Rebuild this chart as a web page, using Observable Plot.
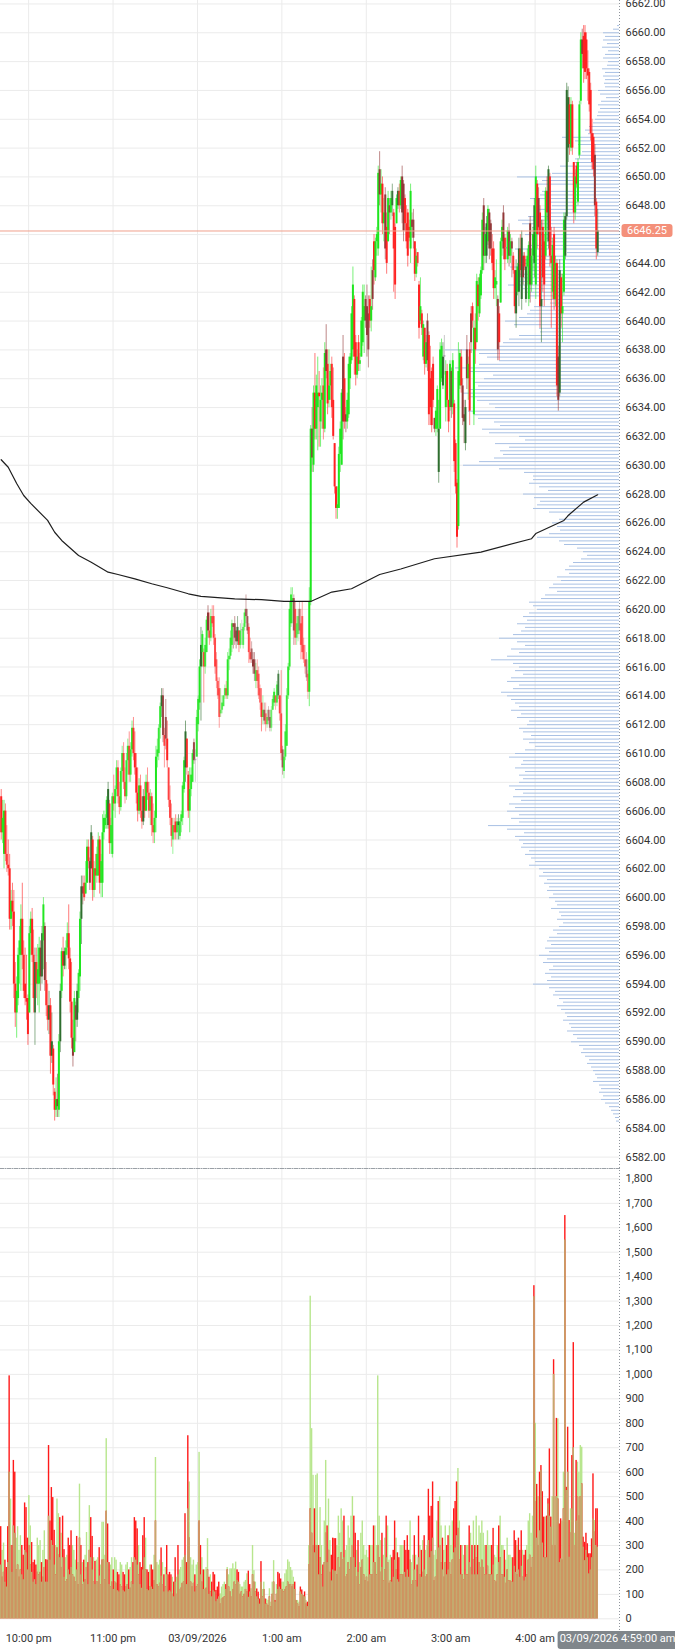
<!DOCTYPE html>
<html><head><meta charset="utf-8">
<script src="https://cdn.jsdelivr.net/npm/d3@7"></script>
<script src="https://cdn.jsdelivr.net/npm/@observablehq/plot@0.6"></script>
<style>
html,body{margin:0;padding:0;background:#fff;}
#chart{position:relative;width:675px;height:1652px;overflow:hidden;background:#fff;}
#chart svg{position:absolute;left:0;}
</style></head><body><div id="chart"></div>
<script>
// ---- x axis categories ----
const hourTickHours = [22, 23, 0, 1, 2, 3, 4];
const hourLabels = ["10:00 pm", "11:00 pm", "03/09/2026", "1:00 am", "2:00 am", "3:00 am", "4:00 am"];
const crosshairLabel = "03/09/2026 4:59:00 am";
const lastPrice = 6646.25;

// ---- 1-minute candles from 21:40 (open, high, low, close) ----
const ohlc = [
[6607,6607.5,6604,6604.5],[6604.5,6606.75,6603.75,6605.5],[6603,6606.75,6602,6606],[6606,6606.5,6602.5,6603],[6603,6605,6601.75,6602.25],
[6602.25,6604,6601.5,6602],[6602,6603,6597.75,6598.5],[6598.5,6600.5,6597.75,6599.75],[6599.75,6601,6598,6599],[6599,6600.5,6593,6594],
[6594,6595.5,6591,6592],[6592,6594.5,6590.25,6593.5],[6593,6596.5,6592.5,6596],[6596,6598,6594,6597],[6596,6599.5,6593.5,6598.5],
[6598.5,6601,6595,6596],[6596,6597,6593,6593.5],[6594,6596.5,6592.5,6593],[6593,6596,6591.5,6592.75],[6593,6593.25,6589.75,6590.5],
[6592,6598,6592,6597.5],[6597.5,6599,6596,6598.5],[6598.5,6599.25,6595.5,6596],[6596,6597.75,6592,6593],[6592,6596.5,6589.75,6595.5],
[6595.5,6596.5,6593,6594],[6594,6596.75,6592.5,6595],[6594,6597.25,6592,6596.5],[6596.5,6597,6593.5,6594.5],[6594.5,6598,6594,6597.5],
[6597,6600,6595,6599.5],[6598,6598.25,6593.5,6594.25],[6594.25,6595.5,6591.75,6592.5],[6592.5,6594,6590.75,6591.5],[6591.5,6593.5,6590.5,6592.5],
[6592.5,6593,6587.75,6589],[6589,6592,6588.5,6590],[6589.5,6589.75,6586.25,6587],[6586.5,6586.75,6584.5,6585.25],[6585.25,6587.5,6584.75,6586],
[6586,6587.75,6584.75,6585.5],[6585.25,6590.5,6584.75,6590],[6590,6594,6589.25,6593.5],[6593.5,6596.5,6593,6596.25],[6596.25,6597.25,6594.5,6595.25],
[6595.25,6596.5,6595,6596.25],[6596,6597,6595,6596.5],[6596.5,6598.25,6596,6597.5],[6597.5,6599.5,6595,6595.75],[6595.75,6596.5,6592,6592.75],
[6592.75,6595.5,6589.5,6590.25],[6590.25,6591.5,6588.25,6589],[6589.25,6593.5,6589.25,6593],[6592.5,6592.75,6590,6591.5],[6591.5,6594,6591,6593.5],
[6593,6595,6592,6594.75],[6594.5,6599,6593.5,6598.5],[6598.5,6601.5,6596.75,6600.75],[6600.75,6601.5,6599.5,6600.25],[6601,6601.5,6599.75,6600],
[6600.25,6602.5,6600.25,6601],[6601,6604,6601,6603.5],[6603.5,6604,6602,6602.5],[6602.5,6602.75,6600.5,6601],[6602,6605,6602,6604.5],
[6604,6604.25,6599.75,6600.5],[6600.5,6602.5,6600,6602],[6602,6603,6600.5,6601.5],[6601.5,6603.5,6601,6603],[6601.5,6604.5,6601.5,6604],
[6604,6604.25,6600.25,6601],[6601,6603,6600,6602.5],[6601,6605.75,6600,6604.5],[6604.5,6606,6604,6605.5],[6605,6605.75,6604.75,6605.5],
[6605.5,6607,6604.75,6606.75],[6605,6608,6604.75,6607.5],[6606.5,6606.75,6603,6603.75],[6603.75,6605.5,6603,6605],[6603,6607.25,6602.75,6607],
[6607,6608.5,6606,6606.5],[6606.5,6607.75,6605.5,6607.5],[6607.5,6609.5,6607,6609],[6609,6609.5,6606.5,6607],[6607,6608,6605.75,6606.25],
[6606.25,6609,6606,6608.75],[6608.75,6610.5,6608,6610],[6610,6610.75,6607.5,6608],[6608,6609,6606.5,6607],[6607,6610,6606.75,6609.5],
[6609.5,6611,6608.5,6610.5],[6610.5,6611.5,6608,6608.5],[6608.5,6610.75,6608,6610.25],[6610.25,6612.25,6609.75,6611.75],[6611.75,6612.5,6609.5,6610],
[6610,6611.5,6608.5,6609],[6609,6610,6606.5,6607.25],[6607.25,6609,6605.25,6606],[6606,6608.25,6605.75,6607.75],[6607.75,6608.5,6605.5,6606],
[6606,6607,6604.75,6605.25],[6605.25,6607.5,6605,6607],[6607,6608,6605.5,6606],[6606,6608.5,6606,6608],[6608,6609,6606.75,6607.25],
[6607.25,6608,6605.5,6606],[6606,6607.5,6605,6607],[6607,6607.25,6604.25,6605],[6605,6606.5,6603.75,6604.5],[6604.5,6606,6603.75,6605.5],
[6605.5,6610.5,6604.5,6609.75],[6609.75,6611,6609,6610.25],[6610,6612,6609.5,6611.75],[6611.75,6613.5,6611,6613.25],[6613.25,6614.5,6612.5,6614],
[6614,6614.5,6610.75,6611.25],[6611.25,6611.75,6609,6610.5],[6612.5,6613.75,6610.25,6611],[6611,6612.25,6609,6609.5],[6609,6609,6606.25,6606.75],
[6606.75,6607.75,6605,6605.5],[6605.5,6606.5,6603.5,6604.25],[6604,6605.5,6603,6605],[6605,6605.5,6604,6604.5],[6605.25,6605.75,6604,6604.5],
[6604.5,6605.5,6604,6605.25],[6605,6605.75,6604,6605.25],[6604.25,6605.5,6604,6605.25],[6605.25,6606,6604.5,6605.75],[6605.5,6608,6605,6607.75],
[6607.5,6609.75,6607.25,6609.5],[6609,6612.25,6608,6611.5],[6611,6611,6608.5,6609],[6608.5,6608.75,6605.5,6606],[6606,6609,6604.5,6607.5],
[6607.5,6609,6607,6608.5],[6608,6610.25,6608,6610],[6610.75,6611,6609.25,6609.5],[6609.5,6610.25,6608,6609.5],[6609.75,6613,6609.75,6612.5],
[6612,6614,6611.5,6613.75],[6613.5,6616.5,6613,6616],[6616,6618.75,6612.25,6617.5],[6617,6618.5,6616,6618.25],[6617,6617.25,6613.5,6616],
[6616,6618,6615.5,6617.5],[6617,6619.5,6617,6619.25],[6619.75,6620.25,6618,6618.5],[6618.5,6619.75,6617.5,6618],[6618,6620,6617.75,6619.5],
[6619.5,6620.25,6618.75,6619],[6619.5,6620.25,6617.5,6618],[6618,6618.25,6615.5,6616],[6616.5,6617,6614.5,6615],[6615,6615.25,6613.75,6614],
[6614.5,6615.25,6611.75,6612.5],[6612.75,6614.5,6612.5,6613],[6613,6614,6612.75,6613.5],[6613.25,6614,6613.25,6614],[6614,6614.75,6613.75,6614.5],
[6614.5,6615,6613.75,6614],[6614,6617,6613.75,6616.5],[6616.5,6617.25,6615.75,6616.75],[6616.75,6618.5,6616.5,6618],[6617.5,6619.25,6617,6619],
[6619,6619,6617.25,6618.75],[6619,6619.5,6617.5,6618],[6618.5,6618.75,6617.25,6617.75],[6617.75,6619.5,6617.5,6618.75],[6618.5,6618.5,6617,6617.5],
[6617.5,6619,6617.25,6618.5],[6618.5,6619.25,6617.5,6618.5],[6617.5,6619,6617.25,6618.75],[6618.75,6620,6618.5,6619.75],[6620,6621,6619,6619.5],
[6619.5,6620,6618.25,6618.5],[6618.75,6619,6616.25,6617],[6617,6618,6616.25,6616.5],[6617.25,6617.75,6616.25,6616.5],[6616.5,6617,6615.5,6616],
[6616.5,6617,6615,6615.5],[6615,6616.25,6614.5,6615.75],[6615.75,6616.5,6614.5,6615],[6615.5,6616,6613.75,6614],[6614.5,6614.75,6613,6613.5],
[6613.5,6614.5,6611.5,6612.5],[6612.5,6614,6612,6613],[6613,6613.5,6612,6612.25],[6612.75,6613.5,6611.5,6612],[6612,6613,6611.75,6612.5],
[6613,6613.25,6612,6612.25],[6612.5,6613,6611.5,6611.75],[6611.75,6613.25,6611.5,6613],[6613,6614,6613,6613.75],[6613.5,6614.5,6613.25,6614.25],
[6614,6614,6613,6613.5],[6613.5,6615,6613.25,6614.75],[6614,6615.75,6613.75,6615.5],[6614,6614,6612.25,6612.75],[6612.75,6615.75,6609.5,6610],
[6610.25,6610.5,6608.5,6609],[6608.75,6610.25,6608.25,6609.75],[6609.75,6612,6609.5,6611.5],[6610.5,6614.5,6610.5,6614],[6614,6616.25,6613.75,6616],
[6616,6620.5,6615.75,6620],[6619,6621.5,6618.75,6621],[6620.5,6621.5,6619,6620.75],[6620.75,6621,6617.5,6618.5],[6620,6620.5,6617.5,6618],
[6618,6619.5,6617.5,6619],[6618.25,6620,6617.75,6619.5],[6620,6620.5,6618.25,6618.5],[6619,6620,6616.5,6617.5],[6619.5,6620.5,6616.5,6617],
[6617.5,6618,6616.25,6616.5],[6616.5,6617.5,6615.5,6616],[6616.5,6617,6615,6615.25],[6615.5,6615.75,6613.75,6614.25],[6614.25,6621.5,6613.25,6620.5],
[6620.5,6632.75,6620.25,6632.5],[6632.5,6634,6629.5,6630.5],[6630,6635.5,6629.5,6635],[6635,6637.75,6631.75,6632.5],[6632.5,6636.25,6631.75,6635.5],
[6634,6637.5,6631,6635],[6635,6636.5,6631.25,6634.75],[6633,6635.5,6631.25,6634.5],[6634.5,6636,6632.5,6635],[6635.5,6636.75,6631.75,6632.5],
[6632.5,6638.5,6632.25,6637.75],[6638,6639.75,6636,6636.5],[6637,6638,6633.5,6634.25],[6634.5,6638,6634,6635.5],[6635.5,6637,6634.5,6636.5],
[6637,6637.5,6633.25,6634],[6634.5,6636.75,6631.75,6632],[6631.5,6631.5,6628,6628.5],[6628.5,6628.5,6626.25,6627],[6627,6628.5,6626.25,6627.25],
[6627,6631.25,6627,6630.75],[6630.75,6633,6629.5,6632.5],[6630,6635.25,6630,6635],[6637.5,6639,6631.75,6633],[6636,6637.75,6632.5,6633],
[6633.5,6634,6632.25,6633],[6633,6635,6632.5,6634.5],[6633.5,6637.5,6633.25,6637],[6636,6637.75,6635.25,6637.5],[6637.25,6641,6637,6640.5],
[6638,6643.75,6637.5,6642.5],[6641.5,6641.75,6636.25,6637.5],[6638.5,6639,6635.5,6636.25],[6636.25,6638,6636,6637.5],[6638.5,6639,6636.5,6637],
[6637,6637.75,6636.5,6637.25],[6637.5,6640.25,6637.5,6640],[6638.5,6642.5,6638.25,6642],[6640,6642.5,6637.75,6641],[6641.5,6641.75,6639.5,6640],
[6641,6642.5,6637.5,6639],[6640.5,6641.75,6636.75,6638],[6641.5,6641.75,6639.5,6640],[6640,6643.75,6639.25,6641],[6643.5,6644.25,6640.75,6641.5],
[6645.5,6646,6642.5,6643.5],[6643,6645.75,6642.75,6645.5],[6645.5,6646.5,6644.5,6646],[6645,6650.75,6644.5,6650.25],[6650.5,6651.75,6648,6648.75],
[6648.75,6650.5,6647.5,6649.5],[6649.5,6650,6646,6646.75],[6646.75,6648.5,6645.5,6647.5],[6648.75,6649.25,6644.25,6645],[6646.5,6647.5,6643.25,6644],
[6645.5,6649,6645.5,6648.5],[6648,6648.5,6646,6647.5],[6647.5,6649,6647,6648.5],[6648,6649.5,6647.25,6649],[6647.5,6647.75,6642,6645],
[6646.5,6646.75,6641.5,6642.5],[6646.75,6648.75,6646.75,6648.5],[6648,6649.25,6647.75,6649],[6649,6649.5,6647.5,6648],[6648,6650,6647.75,6649.75],
[6650,6650.75,6646.75,6647.5],[6649.5,6649.75,6645.5,6646.25],[6648.5,6648.75,6646.25,6646.75],[6646.75,6648,6645,6645.5],[6647.5,6647.75,6643.75,6644.5],
[6646.5,6647,6645.5,6645.75],[6645,6649.5,6644,6649],[6647,6647.5,6645.75,6646.5],[6647,6647.75,6645,6645.75],[6645.5,6645.5,6642.75,6643.25],
[6643.25,6645,6643,6644.5],[6644.75,6644.75,6643.75,6644],[6642.5,6642.75,6638.75,6639.5],[6640,6643,6639.75,6641],[6640.5,6640.75,6639,6639.5],
[6637.5,6640,6637.25,6639.75],[6639.5,6639.5,6636.25,6637],[6637,6639,6636.75,6638.5],[6640,6640.5,6636.5,6637.25],[6639,6639.25,6632.75,6633.5],
[6636,6638.25,6632.75,6634],[6636.5,6636.75,6632.25,6632.75],[6637,6637.5,6634,6634.5],[6633.25,6633.25,6632.25,6632.5],[6632.5,6634,6632,6633.75],
[6632.5,6635.5,6632.25,6635.25],[6629.5,6634.5,6628.75,6632.5],[6632.5,6638.5,6632.5,6638],[6636,6638.75,6635.75,6638.25],[6635.5,6638.5,6635.25,6637.5],
[6637.5,6639,6636.25,6637.5],[6634,6637.25,6633,6636.5],[6636.5,6637,6634,6634.5],[6634.5,6634.5,6632.25,6633],[6634,6637.25,6633.75,6637],
[6636.5,6636.75,6633.25,6634],[6634,6637.75,6633.5,6637.25],[6634.25,6634.5,6629.5,6630.25],[6631.5,6631.75,6628,6628.5],[6628.75,6629,6624.25,6625],
[6625.75,6638.5,6625.5,6636.5],[6635.5,6638,6635.25,6637.75],[6637.5,6638,6635,6635.5],[6635.5,6636,6632.75,6633.25],[6633.5,6634.5,6631.5,6633],
[6631.5,6634.5,6631,6634],[6638,6639,6635.25,6636],[6636,6637.5,6634.5,6637],[6638,6638.5,6632.75,6633.75],[6640.5,6641,6637.75,6638.5],
[6641,6641.25,6639.5,6640],[6633.5,6640,6632.75,6639.5],[6639.5,6640.5,6637,6638],[6638.5,6643.25,6638.5,6642.75],[6642.5,6643,6640,6641],
[6640.5,6643.25,6640.25,6643],[6641.75,6643.75,6641.5,6643.5],[6643.5,6647.5,6643.25,6647],[6648,6648.5,6643.5,6644.5],[6644.5,6646.5,6644,6646],
[6644.5,6647.25,6644,6646.75],[6645.5,6648,6645.25,6647.75],[6647.5,6647.75,6644.25,6645],[6646.75,6647,6644.5,6645],[6645,6646,6643.5,6644],
[6645,6645.5,6641.5,6642.25],[6642.25,6643.5,6641.5,6643],[6642.5,6644.25,6641,6642.75],[6641.5,6641.75,6637.25,6638],[6640.5,6641,6637.25,6638.5],
[6641.25,6645.75,6641.25,6645.5],[6645.5,6647,6644.5,6646.5],[6647.5,6648,6644.25,6645],[6645.75,6646,6643.5,6644.25],[6645,6645.75,6644.25,6645],
[6644.25,6646.5,6644,6646.25],[6646.25,6646.75,6643.75,6644.5],[6644.5,6646,6644,6645.5],[6645.5,6645.75,6643,6645],[6644.5,6644.75,6643.25,6643.5],
[6643.5,6643.5,6640.5,6641],[6640.5,6644.25,6639.5,6643.5],[6642,6644,6641.75,6643.75],[6642,6645.75,6641,6645],[6645,6646,6643,6643.5],
[6641.5,6646.25,6640.75,6645.75],[6644.5,6644.75,6642.5,6643],[6644.5,6644.75,6643.5,6643.75],[6641.5,6644.25,6641.25,6643.75],[6643.75,6645,6642.5,6644.5],
[6641.5,6645.5,6641,6645.25],[6646.75,6647.25,6641.25,6642.5],[6642.5,6645,6642,6644.5],[6644.5,6646.5,6643.5,6646],[6644,6648.5,6643,6648],
[6642.5,6650.75,6641.5,6650],[6649.5,6649.75,6645,6646],[6648.5,6649.25,6646,6646.5],[6647.5,6648,6639.5,6641],[6641,6647,6638.5,6641.5],
[6646.5,6647,6642,6643],[6645.5,6646,6641,6642.5],[6644.5,6649.25,6644.25,6649],[6649,6650,6647,6647.5],[6645.5,6650.75,6645,6650.5],
[6650,6650.25,6643.75,6644.5],[6644.5,6646.5,6639.5,6644],[6642,6645.75,6641.5,6645.25],[6646,6646.5,6640.75,6641.5],[6641.5,6644.5,6641,6644],
[6644,6644.25,6634.75,6635.5],[6637.5,6638.25,6633.75,6634.5],[6635,6644.25,6634.75,6643.5],[6643,6643.25,6639.5,6640.5],[6640.5,6643.25,6638.5,6641],
[6642,6647.5,6641.75,6647],[6644.5,6647.5,6644.25,6647.25],[6647.25,6656.5,6647,6656],[6652,6656.25,6651,6655.5],[6655,6655.5,6651.5,6652.25],
[6652,6655.5,6651.75,6655],[6655,6655.25,6651.5,6652],[6651,6651,6646.75,6647.5],[6647.5,6650.5,6647,6650],[6650.75,6651,6649.25,6649.5],
[6648.25,6651.25,6648,6651],[6651.5,6655.25,6651.25,6655],[6655.25,6660,6655,6659.5],[6659.5,6660.25,6657.5,6658.5],[6659.75,6660.5,6656.5,6657.5],
[6660,6660.5,6656.75,6657.25],[6659.5,6660,6656.75,6657.5],[6657.5,6658.75,6655.25,6657],[6657.25,6657.5,6654.5,6655],[6656,6656.5,6652.5,6653],
[6653,6654,6650.5,6651],[6652.75,6653,6650,6650.5],[6651.5,6652.25,6647.25,6648],[6648.25,6648.5,6644.25,6645],[6644.75,6647.75,6644.5,6646.25]
];

// ---- volume per minute: buy side (green) and sell side (red) ----
const buyVol = [
220,280,310,150,130,230,600,490,190,380, 350,330,377,280,340,180,160,280,270,200,
504,380,190,150,160,140,330,300,320,150, 280,360,150,150,420,240,320,300,220,300,
490,430,250,350,250,170,250,260,200,180, 210,300,280,240,200,230,551,180,230,150,
260,353,140,463,250,200,250,140,240,250, 175,220,395,395,260,737,230,140,220,250,
120,250,240,115,110,230,220,115,110,220, 230,120,210,250,140,250,240,220,300,140,
125,200,250,330,120,115,220,130,120,260, 660,230,220,240,175,230,110,210,180,110,
115,110,170,90,150,170,180,200,210,240, 250,260,140,450,560,250,220,240,110,220,
230,681,180,250,120,200,210,328,100,180, 90,115,110,70,80,90,102,130,140,150,
120,210,180,204,204,225,204,232,157,150, 140,130,130,150,157,184,88,110,123,300,
197,150,90,80,60,150,120,150,60,80, 75,123,68,150,238,68,140,120,130,120,
150,150,184,200,241,232,210,197,170,120, 75,75,68,110,100,95,90,75,50,300,
1320,778,587,270,587,593,180,455,300,130, 400,648,230,490,320,155,200,195,195,300,
420,350,450,400,250,280,300,380,330,420, 500,250,210,280,190,230,350,400,300,260,
280,250,180,300,300,230,380,300,994,420, 320,210,260,330,250,380,240,260,150,170,
240,330,160,150,300,300,300,190,170,200, 170,400,230,260,200,260,130,250,300,170,
320,200,280,300,320,250,275,330,260,280, 400,290,500,380,200,280,380,180,200,380,
300,400,270,290,340,615,400,180,300,260, 180,300,300,230,350,180,400,180,420,180,
380,350,400,350,300,180,360,300,300,180, 220,260,250,300,230,420,300,300,170,240,
330,260,260,250,150,215,190,300,200,170, 215,280,155,170,300,400,430,350,420,1318,
800,330,500,360,607,310,250,416,250,470, 420,375,500,1000,500,500,818,230,245,400,
600,1550,525,600,252,450,450,700,350,400, 641,600,709,702,293,238,280,250,184,200,
250,409,402,300,293
];
const sellVol = [
377,170,190,240,210,377,994,300,300,648, 600,200,220,170,200,300,260,474,455,330,
300,220,312,230,240,220,190,180,190,230, 170,210,242,240,709,400,537,496,362,180,
290,260,414,210,420,283,150,160,330,300, 360,180,170,150,337,140,330,300,140,240,
160,210,230,280,414,337,150,235,150,150, 291,140,240,240,160,440,388,230,130,150,
200,150,145,190,180,140,130,190,180,130, 140,200,125,150,230,414,400,368,180,230,
210,340,414,200,200,190,130,220,200,155, 400,140,130,145,290,140,180,130,300,180,
190,180,100,150,250,100,300,120,125,145, 150,430,230,749,330,150,130,145,180,130,
140,400,300,150,200,120,125,200,170,110, 150,190,180,116,130,150,60,80,85,90,
140,200,130,110,88,120,150,140,200,190, 100,110,90,100,120,110,195,140,90,180,
150,110,122,109,81,234,90,120,81,60, 54,90,50,100,150,75,100,190,184,163,
120,110,120,130,150,140,140,130,140,150, 75,60,50,130,118,95,110,60,68,220,
450,350,300,450,300,300,300,250,180,220, 230,350,380,280,190,260,330,328,328,180,
250,210,270,240,420,170,180,230,200,250, 300,420,350,170,320,140,210,240,180,155,
170,150,300,180,180,380,230,180,300,250, 190,350,155,200,420,230,145,155,250,280,
400,200,270,250,180,180,180,320,280,340, 280,240,140,155,340,155,220,420,180,280,
190,340,170,180,530,420,460,560,155,170, 240,480,300,230,330,170,230,300,340,230,
180,240,450,480,560,370,240,300,180,160, 300,180,180,380,210,300,240,300,250,300,
230,210,240,210,180,300,215,180,180,300, 370,155,150,180,380,250,180,180,280,145,
200,155,155,150,250,360,320,180,330,280, 360,170,260,280,180,240,260,210,250,1363,
480,550,300,600,627,520,416,250,420,491, 695,416,300,1060,300,820,490,388,409,240,
450,1650,538,784,402,350,668,1130,300,648, 498,420,500,552,334,313,350,307,266,266,
327,593,354,450,450
];

// ---- session VWAP (minute index, value) ----
const vwapMinute = [0,5,11,16,21,33,38,43,55,64,76,83,95,107,118,133,142,166,185,201,220,235,249,269,284,308,341,377,380,400,403,414,424];
const vwapValue = [6630.38,6629.86,6628.73,6627.9,6627.35,6626.17,6625.35,6624.78,6623.74,6623.27,6622.58,6622.42,6622.12,6621.78,6621.5,6621.08,6620.9,6620.73,6620.67,6620.55,6620.55,6621.2,6621.43,6622.42,6622.8,6623.51,6623.97,6624.9,6625.26,6626.17,6626.51,6627.44,6627.95];

// ---- volume profile, one value per 0.25 tick from 6584.50 up ----
const profileLow = 6584.5;
const profileVol = [
3,4,6,8,10,14,18,16,20,18,20,26,22,24,26,28,32,30,34,38,
36,40,48,42,46,52,48,50,56,52,54,58,62,56,60,66,64,70,86,72,
68,74,70,66,76,72,80,70,74,68,72,70,62,66,60,56,62,58,60,68,
62,64,70,66,72,70,75,72,80,76,80,90,84,88,94,90,98,96,100,104,
95,112,131,100,108,100,112,104,110,98,106,96,104,110,100,96,100,94,104,98,
96,110,104,94,84,90,96,88,96,100,92,90,102,98,108,100,104,108,112,118,
106,100,112,108,96,104,100,106,128,112,100,108,94,102,120,106,98,94,102,92,
96,90,82,86,90,78,74,62,70,66,58,62,50,54,50,46,38,32,36,42,
55,60,82,70,59,62,67,60,52,70,86,82,79,85,96,71,80,90,86,86,
95,120,156,140,125,116,119,110,124,94,100,130,137,119,125,141,145,151,124,130,
142,150,156,150,141,146,135,126,150,164,140,120,132,140,174,120,116,110,100,79,
80,105,114,100,92,89,85,69,80,90,94,98,111,100,95,99,90,109,95,99,
85,52,104,91,72,74,94,77,87,97,101,91,70,82,67,74,89,79,77,44,
84,77,102,67,42,59,44,44,41,37,27,41,44,57,31,34,30,26,24,22,
21,19,21,18,13,19,21,14,15,14,16,14,17,12,11,16,14,11,17,12,
16,14,16,6,2
];

// ================= build =================
const MIN = 60000;
const startTime = new Date(2026, 2, 8, 21, 40);
const endTime = new Date(2026, 2, 9, 5, 0);
const crossTime = new Date(2026, 2, 9, 4, 59);
const hourTicks = hourTickHours.map(h => h >= 12 ? new Date(2026, 2, 8, h) : new Date(2026, 2, 9, h));
const labelMap = new Map(hourTicks.map((d, i) => [+d, hourLabels[i]]));
const priceTicks = d3.range(6582, 6663, 2);
const priceLabelTicks = priceTicks.filter(d => Math.abs(d - lastPrice) > 1); // label hidden under the last-price tag
const volTicks = d3.range(0, 1801, 100);

const candles = ohlc.map((r, i) => ({
  t: new Date(+startTime + i * MIN + MIN / 2),
  t0: new Date(+startTime + i * MIN),
  t1: new Date(+startTime + (i + 1) * MIN),
  o: r[0], h: r[1], l: r[2], c: r[3], g: buyVol[i], r: sellVol[i]
}));
const vwap = vwapMinute.map((m, i) => ({t: new Date(+startTime + m * MIN + MIN / 2), v: vwapValue[i]}));
const profile = profileVol.map((v, i) => ({p: profileLow + i * 0.25, v}));

function candleColor(d) {
  if (d.c > d.o) return d.g >= d.r ? "#1fe61f" : "#2f6e2f";
  if (d.c < d.o) return d.r >= d.g ? "#ff2222" : "#923838";
  return "#a0a0a0";
}
function candleOpacity(d) { return Math.min(1, 0.4 + (d.g + d.r) / 800); }

const W = 675, PH = 1168, MR = 56;
const fontStyle = {fontFamily: "Roboto, sans-serif", fontSize: "11px", color: "#333", overflow: "visible"};
const priceBase = {
  width: W, height: PH, marginLeft: 0, marginRight: MR, marginTop: 0, marginBottom: 0,
  x: {type: "time", domain: [startTime, endTime], axis: null},
  y: {domain: [6581.21, 6662.24], axis: null},
  color: {type: "identity"}, opacity: {type: "identity"}
};

const root = document.getElementById("chart");

// layer 1: grid
const gridLayer = Plot.plot({...priceBase, style: {background: "#fff"}, marks: [
  Plot.gridX(hourTicks, {stroke: "#ebebeb", strokeOpacity: 1}),
  Plot.gridY(priceTicks, {stroke: "#ebebeb", strokeOpacity: 1})
]});
// layer 2: volume profile
const profLayer = Plot.plot({
  width: W, height: PH, marginLeft: 0, marginRight: MR, marginTop: 0, marginBottom: 0,
  x: {domain: [0, 619], range: [619, 0], axis: null},
  y: {domain: [6581.21, 6662.24], axis: null},
  style: {background: "transparent"},
  marks: [Plot.ruleY(profile, {y: "p", x1: () => 0, x2: "v", stroke: "#a9c1e4", strokeWidth: 1})]
});
// layer 3: candles, vwap, axis
const topLayer = Plot.plot({...priceBase, style: {...fontStyle, background: "transparent"}, marks: [
  Plot.ruleX(candles, {x: "t", y1: "l", y2: "h", stroke: candleColor, strokeOpacity: d => 0.6 * candleOpacity(d), strokeWidth: 1}),
  Plot.ruleX(candles, {x: "t", y1: "o", y2: d => d.c === d.o ? d.c + 0.1 : d.c, stroke: candleColor, strokeOpacity: candleOpacity, strokeWidth: 2}),
  Plot.line(vwap, {x: "t", y: "v", stroke: "#1e1e1e", strokeWidth: 1.2}),
  Plot.ruleY([lastPrice], {stroke: "#f0a08c", strokeWidth: 1}),
  Plot.axisY(priceLabelTicks, {anchor: "right", tickSize: 0, tickPadding: 6, tickFormat: d => d.toFixed(2)})
]});
{
  const xs = topLayer.scale("x"), ys = topLayer.scale("y");
  const xr = xs.apply(endTime), yy = ys.apply(lastPrice);
  const s = d3.select(topLayer);
  s.append("line").attr("x1", xr + 0.5).attr("x2", xr + 0.5).attr("y1", 0).attr("y2", PH)
    .attr("stroke", "#8f959c").attr("stroke-dasharray", "1,2");
  s.append("rect").attr("x", xr + 2.5).attr("y", yy - 6.5).attr("width", 51).attr("height", 13).attr("rx", 3).attr("fill", "#f4907a");
  s.append("text").attr("x", xr + 28).attr("y", yy).attr("dy", "0.35em").attr("text-anchor", "middle")
    .attr("fill", "#fff").attr("font-size", 11).text(lastPrice.toFixed(2));
}

// volume pane
const VH = 485;
const volChart = Plot.plot({
  width: W, height: VH, marginLeft: 0, marginRight: MR, marginTop: 1, marginBottom: 33.7,
  x: {type: "time", domain: [startTime, endTime], axis: null},
  y: {domain: [0, 1842.5], axis: null},
  style: {...fontStyle, background: "transparent"},
  marks: [
    Plot.gridX(hourTicks, {stroke: "#ebebeb", strokeOpacity: 1}),
    Plot.gridY(volTicks, {stroke: "#ebebeb", strokeOpacity: 1}),
    Plot.rectY(candles, {x1: "t0", x2: "t1", y1: 0, y2: "g", fill: "#b8e68e"}),
    Plot.rectY(candles, {x1: "t0", x2: "t1", y1: 0, y2: "r", fill: "#ff1a1a"}),
    Plot.rectY(candles, {x1: "t0", x2: "t1", y1: 0, y2: d => Math.min(d.g, d.r), fill: "#c4aa6e"}),
    Plot.axisY(volTicks, {anchor: "right", tickSize: 0, tickPadding: 6, tickFormat: d3.format(",")}),
    Plot.axisX(hourTicks, {anchor: "bottom", tickSize: 0, tickPadding: 15, tickFormat: d => labelMap.get(+d)}),
    Plot.frame({anchor: "top", stroke: "#9aa0a6", strokeDasharray: "3,1.5,1,1.5"})
  ]
});
{
  const xs = volChart.scale("x");
  const xr = xs.apply(endTime), xc = xs.apply(crossTime);
  const s = d3.select(volChart);
  s.append("line").attr("x1", xr + 0.5).attr("x2", xr + 0.5).attr("y1", 0).attr("y2", 464)
    .attr("stroke", "#8f959c").attr("stroke-dasharray", "1,2");
  s.append("rect").attr("x", xc - 60).attr("y", 464).attr("width", 124).attr("height", 18).attr("rx", 3).attr("fill", "#80868b");
  s.append("text").attr("x", xc).attr("y", 474.6).attr("text-anchor", "middle")
    .attr("fill", "#fff").attr("font-size", 11).text(crosshairLabel);
}

for (const svg of [gridLayer, profLayer, topLayer]) { svg.style.top = "0px"; root.appendChild(svg); }
volChart.style.top = "1167px";
root.appendChild(volChart);
</script>
</body></html>
